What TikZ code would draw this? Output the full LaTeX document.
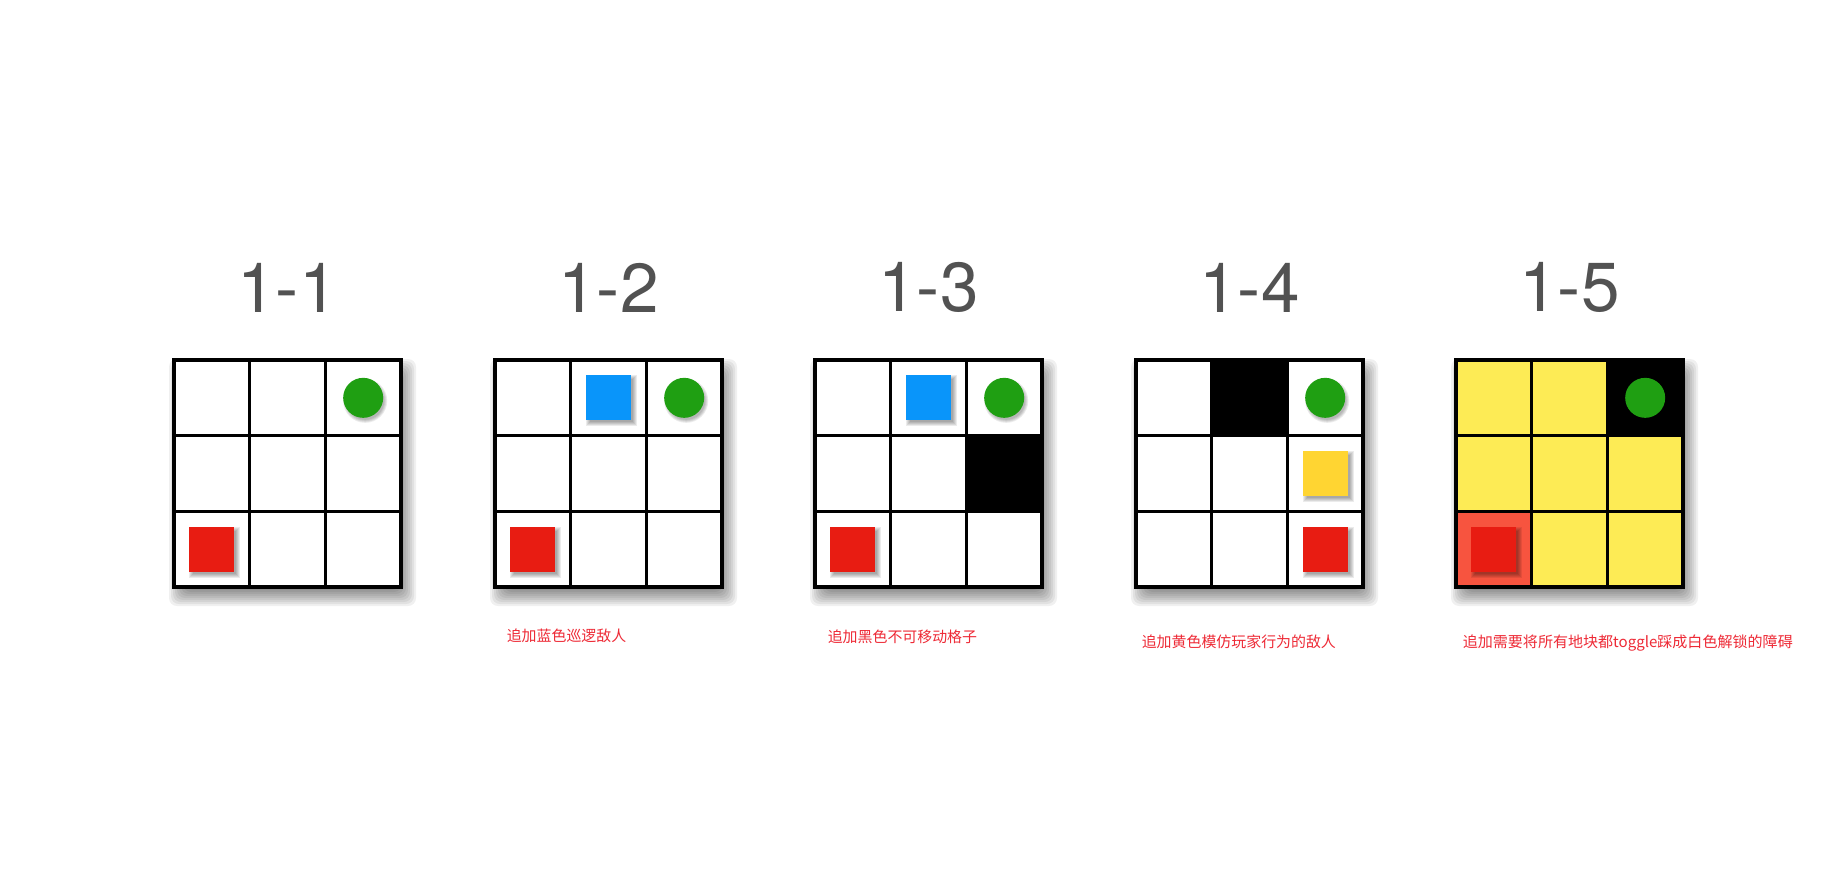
\documentclass[tikz,border=0pt]{standalone}
\usepackage{fontspec}
\usepackage{graphicx}
\setmainfont{TeX Gyre Heros}
\newfontfamily\cjk{Noto Sans CJK SC}
\definecolor{titlegray}{HTML}{525252}
\definecolor{capred}{HTML}{EE2A36}
\definecolor{pred}{HTML}{E81C12}
\definecolor{pgreen}{HTML}{1F9F12}
\definecolor{pblue}{HTML}{0995FA}
\definecolor{pyellow}{HTML}{FFD532}
\definecolor{tileyellow}{HTML}{FDEB55}
\definecolor{tilered}{HTML}{F7543F}
\newcommand\cw{75.667}
\newcommand\gridshadow[1]{%
  \foreach \e in {-8,-6,...,10}{%
    \fill[black,opacity=0.06,rounded corners=6]
      ({#1+5-\e},{369-\e}) rectangle ({#1+232+\e},{596+\e});}}
\newcommand\tile[4]{% x0, col, row, colour
  \fill[#4] ({#1+(#2-1)*\cw},{360+(#3-1)*\cw}) rectangle ++(\cw,\cw);}
\newcommand\gridlines[1]{%
  \foreach \k in {0,1,2,3}{%
    \draw[gridline] ({#1+\k*\cw},360) -- ({#1+\k*\cw},587);
    \draw[gridline] (#1,{360+\k*\cw}) -- ({#1+227},{360+\k*\cw});}}
\newcommand\piece[4]{% x0, col, row, colour : square
  \foreach \e in {-1,0,1,2,3}{%
    \fill[black,opacity=0.08]
      ({#1+(#2-0.5)*\cw-22.5+3-\e},{360+(#3-0.5)*\cw-22.5+3-\e})
      rectangle ++({45+2*\e},{45+2*\e});}
  \fill[#4] ({#1+(#2-0.5)*\cw-22.5},{360+(#3-0.5)*\cw-22.5}) rectangle ++(45,45);}
\newcommand\goal[3]{% x0, col, row : green dot
  \foreach \e in {0,1,2,3}{%
    \fill[black,opacity=0.08] ({#1+(#2-0.5)*\cw+2},{360+(#3-0.5)*\cw+3}) circle ({19+\e});}
  \fill[pgreen] ({#1+(#2-0.5)*\cw},{360+(#3-0.5)*\cw}) circle (20);}
\begin{document}
\begin{tikzpicture}[x=0.75pt,y=-0.75pt,
  gridline/.style={line width=2.3pt,line cap=rect,black},
  title/.style={text=titlegray,inner sep=0pt,font=\fontsize{52}{52}\selectfont},
  caption/.style={text=capred,inner sep=0pt,anchor=west,font=\cjk\fontsize{11.2}{13}\selectfont}]
\useasboundingbox (0,0) rectangle (1823,892);
\fill[white] (0,0) rectangle (1823,892);

% panel 1-1
\gridshadow{174}
\fill[white] (174,360) rectangle (401,587);
\goal{174}{3}{1}
\piece{174}{1}{3}{pred}
\gridlines{174}
\node[title] (t1) at (287.5,287.5) {1-1};

% panel 1-2
\gridshadow{495}
\fill[white] (495,360) rectangle (722,587);
\piece{495}{2}{1}{pblue}
\goal{495}{3}{1}
\piece{495}{1}{3}{pred}
\gridlines{495}
\node[title] (t2) at (608.5,287.5) {1-2};
\node[caption] (c2) at (506.5,636) {追加蓝色巡逻敌人};

% panel 1-3
\gridshadow{815}
\fill[white] (815,360) rectangle (1042,587);
\tile{815}{3}{2}{black}
\piece{815}{2}{1}{pblue}
\goal{815}{3}{1}
\piece{815}{1}{3}{pred}
\gridlines{815}
\node[title] (t3) at (928.5,287.5) {1-3};
\node[caption] (c3) at (827.5,637) {追加黑色不可移动格子};

% panel 1-4
\gridshadow{1136}
\fill[white] (1136,360) rectangle (1363,587);
\tile{1136}{2}{1}{black}
\goal{1136}{3}{1}
\piece{1136}{3}{2}{pyellow}
\piece{1136}{3}{3}{pred}
\gridlines{1136}
\node[title] (t4) at (1249.5,287.5) {1-4};
\node[caption] (c4) at (1141.5,642) {追加黄色模仿玩家行为的敌人};

% panel 1-5
\gridshadow{1456}
\fill[tileyellow] (1456,360) rectangle (1683,587);
\tile{1456}{3}{1}{black}
\tile{1456}{1}{3}{tilered}
\fill[pgreen] ({1456+2.5*\cw},{360+0.5*\cw}) circle (20);
\piece{1456}{1}{3}{pred}
\gridlines{1456}
\node[title] (t5) at (1569.5,287.5) {1-5};
\node[caption] (c5) at (1462.5,643) {\resizebox{247.5pt}{\height}{追加需要将所有地块都toggle踩成白色解锁的障碍}};
\end{tikzpicture}
\end{document}
